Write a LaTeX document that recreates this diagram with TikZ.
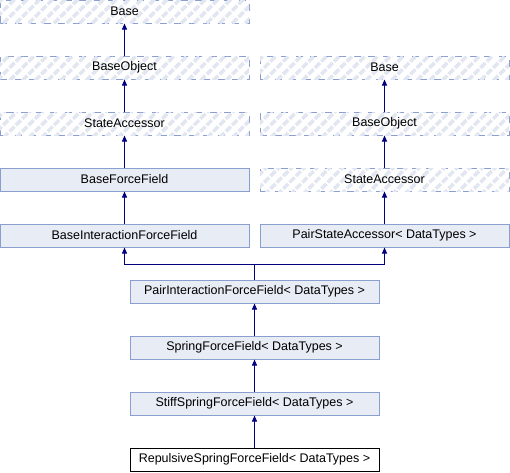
\documentclass[tikz,border=0pt]{standalone}
\usepackage{fontspec}
\setmainfont{Liberation Sans}
\usetikzlibrary{patterns.meta,arrows.meta}

\definecolor{boxfill}{HTML}{E8ECF5}
\definecolor{boxline}{HTML}{8A9ED0}
\definecolor{hatch}{HTML}{E1E6F1}
\definecolor{arrowblue}{HTML}{000080}

\begin{document}
\begin{tikzpicture}[x=1pt,y=-1pt,
        cls/.style={draw=boxline, fill=boxfill, line width=1pt, minimum width=249pt, minimum height=23pt, inner sep=0pt, font=\fontsize{12.5}{14}\selectfont},
        ext/.style={cls, fill=white, dash pattern=on 7pt off 7.5pt, postaction={pattern={Lines[angle=45,distance=9pt,line width=3.5pt]}, pattern color=hatch}},
        this/.style={cls, draw=black, fill=white},
        inherit/.style={arrowblue, line width=1pt, {Triangle[length=6pt,width=5pt]}-}]
        \useasboundingbox (0,0) rectangle (510,472);

        % Left column
        \node[ext] (base1) at (124.5,11.5) {Base};
        \node[ext] (obj1) at (124.5,67.5) {BaseObject};
        \node[ext] (acc1) at (124.5,123.5) {StateAccessor};
        \node[cls] (bff) at (124.5,179.5) {BaseForceField};
        \node[cls] (bif) at (124.5,235.5) {BaseInteractionForceField};

        % Right column
        \node[ext] (base2) at (384.5,67.5) {Base};
        \node[ext] (obj2) at (384.5,123.5) {BaseObject};
        \node[ext] (acc2) at (384.5,179.5) {StateAccessor};
        \node[cls] (psa) at (384.5,235.5) {PairStateAccessor< DataTypes >};

        % Middle column
        \node[cls] (pif) at (254.5,291.5) {PairInteractionForceField< DataTypes >};
        \node[cls] (sff) at (254.5,347.5) {SpringForceField< DataTypes >};
        \node[cls] (ssf) at (254.5,403.5) {StiffSpringForceField< DataTypes >};
        \node[this] (rsf) at (254.5,459.5) {RepulsiveSpringForceField< DataTypes >};

        % Arrows
        \draw[inherit] (base1) -- (obj1);
        \draw[inherit] (obj1) -- (acc1);
        \draw[inherit] (acc1) -- (bff);
        \draw[inherit] (bff) -- (bif);
        \draw[inherit] (base2) -- (obj2);
        \draw[inherit] (obj2) -- (acc2);
        \draw[inherit] (acc2) -- (psa);
        \coordinate (split) at (254.5,264);
        \draw[inherit] (bif.south) |- (split) -- (pif.north);
        \draw[inherit] (psa.south) |- (split);
        \draw[inherit] (pif) -- (sff);
        \draw[inherit] (sff) -- (ssf);
        \draw[inherit] (ssf) -- (rsf);
    \end{tikzpicture}
\end{document}
